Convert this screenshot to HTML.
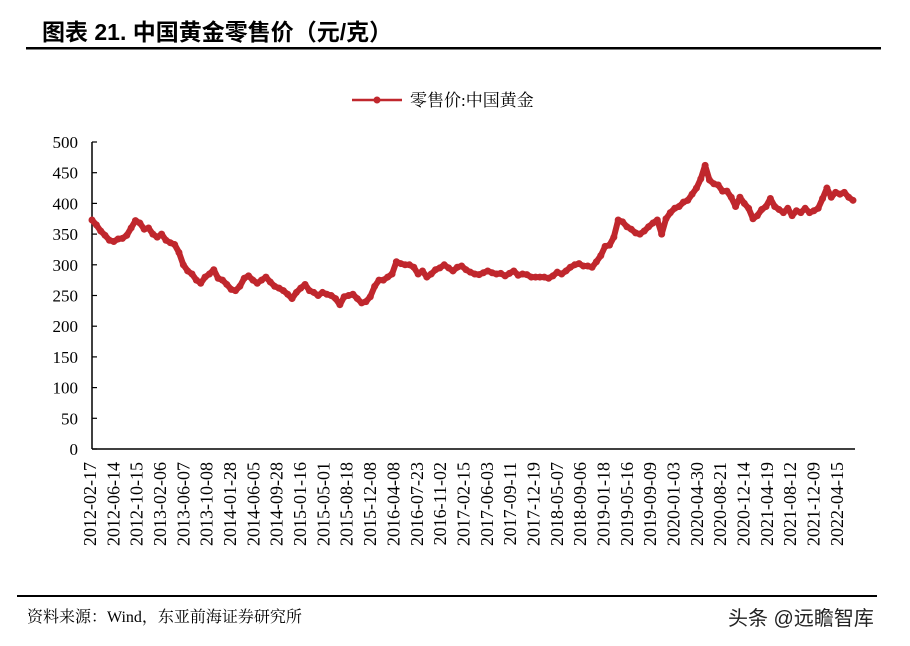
<!DOCTYPE html>
<html><head><meta charset="utf-8"><style>
html,body{margin:0;padding:0;background:#fff;width:910px;height:646px;overflow:hidden}
svg text{font-family:"Liberation Serif","Noto Serif CJK SC",serif}
</style></head><body>
<svg width="910" height="646">
<text x="42" y="40" font-size="23" font-weight="bold" style="font-family:'Liberation Sans','Noto Sans CJK SC',sans-serif">图表 21. 中国黄金零售价（元/克）</text>
<rect x="26" y="47" width="855" height="2.5" fill="#000"/>
<g>
<line x1="352" y1="100" x2="402" y2="100" stroke="#c0272d" stroke-width="2.5"/>
<circle cx="377" cy="100" r="3.5" fill="#c0272d"/>
<text x="410" y="106" font-size="17">零售价:中国黄金</text>
</g>
<g id="axes"></g>
<g id="series"></g>
<rect x="17" y="595" width="860" height="2" fill="#000"/>
<text x="27" y="622" font-size="16">资料来源：Wind，东亚前海证券研究所</text>
<text x="728" y="625" font-size="20" style="font-family:'Liberation Sans','Noto Sans CJK SC',sans-serif" fill="#222">头条 @远瞻智库</text>
</svg>
<script>
const yTicks=[0,50,100,150,200,250,300,350,400,450,500];
const categories=["2012-02-17","2012-06-14","2012-10-15","2013-02-06","2013-06-07","2013-10-08","2014-01-28","2014-06-05","2014-09-28","2015-01-16","2015-05-01","2015-08-18","2015-12-08","2016-04-08","2016-07-23","2016-11-02","2017-02-15","2017-06-03","2017-09-11","2017-12-19","2018-05-07","2018-09-06","2019-01-18","2019-05-16","2019-09-09","2020-01-03","2020-04-30","2020-08-21","2020-12-14","2021-04-19","2021-08-12","2021-12-09","2022-04-15"];
const values=[373,365,355,348,340,338,342,343,348,360,372,368,358,360,350,345,350,340,336,333,320,300,290,285,275,270,280,285,292,278,275,268,260,258,265,278,282,275,270,275,280,272,265,262,258,252,245,255,262,268,258,255,250,255,252,250,245,235,248,250,252,245,238,240,248,265,275,275,280,285,305,302,300,300,296,285,290,280,285,292,295,300,295,290,296,298,292,288,285,284,287,290,287,285,286,282,286,290,283,285,284,280,280,280,280,278,282,288,285,290,296,300,302,298,298,296,305,315,330,332,345,373,370,362,358,352,350,355,362,368,373,350,375,385,392,395,402,405,415,425,440,462,438,432,430,420,420,410,395,410,400,392,375,380,390,395,408,395,390,385,392,380,388,385,392,385,388,392,408,425,410,418,415,418,410,405];
const NS="http://www.w3.org/2000/svg";
const X0=92,X1=855,Y0=449,YT=142,catStep=23.34,dataX0=92,dataX1=853;
function yScale(v){return Y0-(v-0)/(500-0)*(Y0-YT);}
function catX(i){return 90+i*catStep;}
function dataX(i){return dataX0+i*(dataX1-dataX0)/(values.length-1);}
function mk(tag,attrs,parent){const e=document.createElementNS(NS,tag);for(const k in attrs)e.setAttribute(k,attrs[k]);parent.appendChild(e);return e;}
const ax=document.getElementById('axes');
let l=mk('line',{x1:X0,y1:YT,x2:X0,y2:Y0,stroke:'#000','stroke-width':1.5},ax);


l=mk('line',{x1:X0,y1:Y0,x2:X1,y2:Y0,stroke:'#000','stroke-width':1.5},ax);


yTicks.forEach(v=>{const y=yScale(v);
 const t=mk('line',{x1:X0,y1:y,x2:X0+5,y2:y,stroke:'#000','stroke-width':1.2},ax);
 
 
 const tx=mk('text',{x:78,y:y+6,'font-size':17,'text-anchor':'end'},ax);tx.textContent=v;
 
 
});
categories.forEach((c,i)=>{const x=catX(i);
 const tx=mk('text',{x:0,y:0,'font-size':18,'text-anchor':'end',transform:`translate(${x+6},462) rotate(-90)`},ax);tx.textContent=c;
 
 
});
const sg=document.getElementById('series');
const pts=values.map((v,i)=>dataX(i).toFixed(1)+','+yScale(v).toFixed(1)).join(' ');
const pl=mk('polyline',{points:pts,fill:'none',stroke:'#c0272d','stroke-width':6,'stroke-linejoin':'round','stroke-linecap':'round'},sg);


values.forEach((v,i)=>{const c=mk('circle',{cx:dataX(i),cy:yScale(v),r:3.5,fill:'#c0272d'},sg);
 
 
});
</script>
</body></html>
